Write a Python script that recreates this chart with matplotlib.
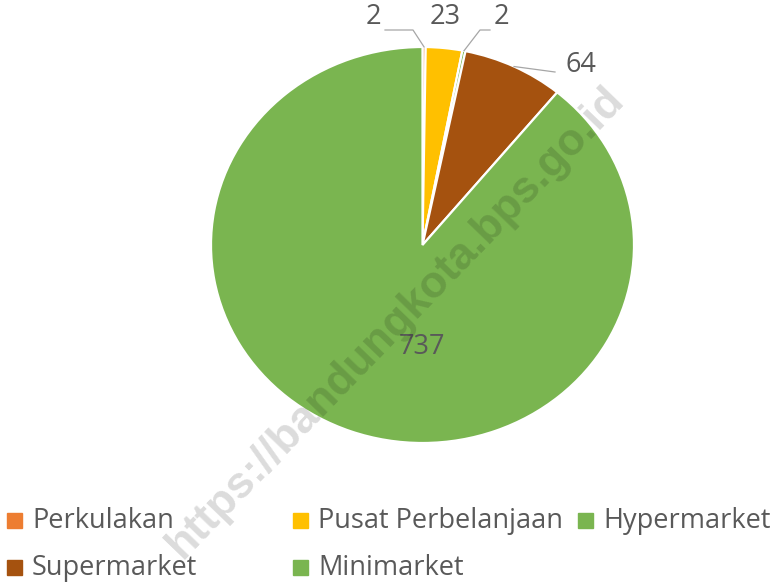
import numpy as np
import matplotlib
matplotlib.use('Agg')
import matplotlib.pyplot as plt
from matplotlib.patches import Rectangle

categories = ['Perkulakan', 'Pusat Perbelanjaan', 'Hypermarket', 'Supermarket', 'Minimarket']
values = [2, 23, 2, 64, 737]
colors = ['#ED7D31', '#FFC000', '#7AB550', '#A5520F', '#7AB550']

plt.rcParams['font.family'] = ['Open Sans', 'DejaVu Sans']
text_color = '#595959'

W, H = 778, 585
fig = plt.figure(figsize=(W / 100, H / 100), dpi=100)

# pie box in pixels (slightly wider than tall, like the source)
left, top, right, bottom = 211, 47, 634, 443
ax = fig.add_axes([left / W, 1 - bottom / H, (right - left) / W, (bottom - top) / H])
wedges, _ = ax.pie(values, colors=colors, startangle=90, counterclock=False,
                   wedgeprops=dict(edgecolor='white', linewidth=1.6))
ax.set_aspect('auto')
ax.set_xlim(-1, 1)
ax.set_ylim(-1, 1)
ax.axis('off')

cx, cy = (left + right) / 2, (top + bottom) / 2
rx, ry = (right - left) / 2, (bottom - top) / 2


def px(x, y):
    return (x - cx) / rx, (cy - y) / ry


# label positions (pixels) and leader line bends
label_pos = [(373, 17), (445, 17), (501, 17), (581, 65), (422, 347)]
leaders = [[(413, 30), (385, 30)], None, [(480, 30), (490, 30)], [(555, 72)], None]

for w, v, pos, lead in zip(wedges, values, label_pos, leaders):
    lx, ly = px(*pos)
    ax.text(lx, ly, str(v), ha='center', va='center', fontsize=19.5,
            color=text_color, clip_on=False)
    if lead:
        mid = np.deg2rad((w.theta1 + w.theta2) / 2)
        pts = [(np.cos(mid), np.sin(mid))] + [px(*p) for p in lead]
        xs, ys = zip(*pts)
        ax.plot(xs, ys, color='#A6A6A6', lw=0.9, clip_on=False)

# legend, laid out row-wise like the source
slots = [(7, 520), (293, 520), (578, 520), (7, 567), (293, 567)]
for name, col, (mx, my) in zip(categories, colors, slots):
    fig.patches.append(Rectangle((mx / W, 1 - (my + 7.5) / H), 15 / W, 15 / H,
                                 transform=fig.transFigure, color=col))
    fig.text((mx + 25) / W, 1 - (my + 1) / H, name, ha='left', va='center',
             fontsize=19.5, color=text_color)

# watermark
fig.text(396 / W, 1 - 322 / H, 'https://bandungkota.bps.go.id', rotation=46,
         rotation_mode='anchor', ha='center', va='center', fontsize=32,
         fontweight='bold', family='Liberation Sans', color='black', alpha=0.14)

fig.savefig('out.png', dpi=100, facecolor='white')
